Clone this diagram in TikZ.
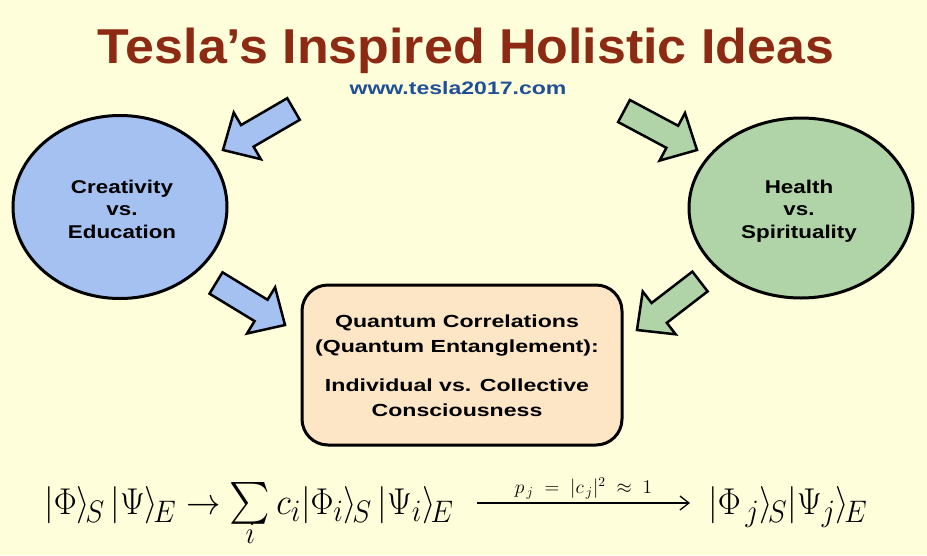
\documentclass[tikz,border=0pt]{standalone}
\usepackage{amsmath}
\usepackage{graphicx}
\usepackage{fontspec}
\setmainfont{Liberation Sans}
\usetikzlibrary{calc,arrows.meta,shapes.geometric}
\definecolor{bg}{HTML}{FFFEDB}
\definecolor{titlered}{HTML}{8C2A14}
\definecolor{urlblue}{HTML}{1F4F96}
\definecolor{bluefill}{HTML}{A4C1F2}
\definecolor{greenfill}{HTML}{B0D4A8}
\definecolor{peach}{HTML}{FDE6C6}
\newcommand\shaftw{12.5pt}
\newcommand\headw{27pt}
\newcommand\headlen{28pt}
\newcommand\blockarrow[3]{%
  \filldraw[arrowline, fill=#3] let \p1=($(#2)-(#1)$), \n1={atan2(\y1,\x1)},
    \n3={veclen(\x1,\y1)-\headlen} in
    ($(#1)+(\n1+90:\shaftw)$) -- ($(#1)+(\n1:\n3)+(\n1+90:\shaftw)$)
    -- ($(#1)+(\n1:\n3)+(\n1+90:\headw)$) -- (#2)
    -- ($(#1)+(\n1:\n3)+(\n1-90:\headw)$) -- ($(#1)+(\n1:\n3)+(\n1-90:\shaftw)$)
    -- ($(#1)+(\n1-90:\shaftw)$) -- cycle;}
\newcommand\sumlim[1]{\mathop{\vtop{\offinterlineskip\halign{\hfil##\hfil\cr
  \scalebox{1.12}{$\sum$}\cr\noalign{\kern-1pt}$\scriptstyle #1$\cr}}}}
\tikzset{
  arrowline/.style={draw=black, line width=2.5pt, line join=miter},
  bubble/.style={ellipse, draw=black, line width=3pt, inner sep=0pt},
  lbl/.style={font=\fontsize{18.5}{22}\selectfont\bfseries, text=black, anchor=base, inner sep=0pt, xscale=1.21},
  boxlbl/.style={font=\fontsize{17.5}{22}\selectfont\bfseries, text=black, anchor=base, inner sep=0pt, xscale=1.32},
  formula/.style={anchor=base west, inner sep=0pt, xscale=1.38, yscale=1.5},
}
\begin{document}
\begin{tikzpicture}[x=1pt,y=-1pt]
\useasboundingbox[fill=bg] (0,0) rectangle (927,555);
\node[text=titlered, font=\fontsize{49}{55}\selectfont\bfseries, anchor=base, inner sep=0pt, xscale=1.06] (title) at (466,63) {Tesla’s Inspired Holistic Ideas};
\node[text=urlblue, font=\fontsize{18}{20}\selectfont\bfseries, anchor=base, inner sep=0pt, xscale=1.28] (url) at (458,94) {www.tesla2017.com};

\node[bubble, fill=bluefill, minimum width=214pt, minimum height=183pt] (creat) at (120,207) {};
\node[lbl] (c1) at (122,193) {Creativity};
\node[lbl] (c2) at (122,215.5) {vs.};
\node[lbl] (c3) at (122,238) {Education};
\node[bubble, fill=greenfill, minimum width=224pt, minimum height=180pt] (health) at (801,208) {};
\node[lbl] (h1) at (799,193) {Health};
\node[lbl] (h2) at (799,215.5) {vs.};
\node[lbl] (h3) at (799,238) {Spirituality};

\node[draw=black, line width=3pt, fill=peach, rounded corners=26pt, minimum width=320pt, minimum height=160pt] (box) at (462,365) {};
\node[boxlbl] (b1) at (457,327) {Quantum Correlations};
\node[boxlbl] (b2) at (457,352) {(Quantum Entanglement):};
\node[boxlbl] (b3) at (457,391) {Individual vs. Collective};
\node[boxlbl] (b4) at (457,416) {Consciousness};

\coordinate (tlt) at (293.5,109); \coordinate (tlp) at (223,150);
\coordinate (trt) at (624,111);   \coordinate (trp) at (697,150);
\coordinate (blt) at (216,283);   \coordinate (blp) at (285,325);
\coordinate (brt) at (700,281.5); \coordinate (brp) at (637,330);
\blockarrow{tlt}{tlp}{bluefill}
\blockarrow{trt}{trp}{greenfill}
\blockarrow{blt}{blp}{bluefill}
\blockarrow{brt}{brp}{greenfill}

\node[formula] (f1) at (44,514)
  {\Huge$|\Phi\rangle_{\!S}\,|\Psi\rangle_{\!E} \rightarrow \sumlim{i} c_i|\Phi_i\rangle_{\!S}\,|\Psi_i\rangle_{\!E}$};
\node[formula] (f2) at (708,514)
  {\Huge$|\Phi_{\,j}\rangle_{\!S}|\Psi_{j}\rangle_{\!E}$};
\coordinate (a1) at (477,503);
\coordinate (a2) at (690,503);
\draw[line width=1.3pt, -{Straight Barb[length=9pt,width=14pt]}] (a1) -- (a2)
  node[midway, above=3pt, inner sep=0pt, scale=1.35] (plabel) {\Large$p_{\,j}\;=\;|c_{\,j}|^2\;\approx\;1$};
\end{tikzpicture}
\end{document}
